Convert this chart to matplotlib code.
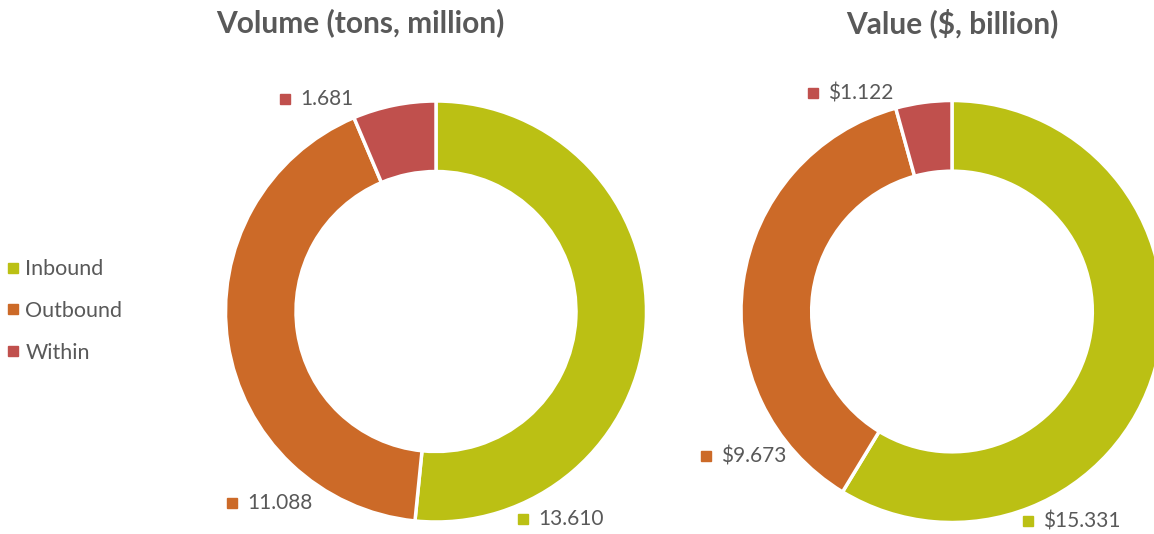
import matplotlib
matplotlib.use("Agg")
import matplotlib.pyplot as plt
from matplotlib.lines import Line2D

plt.rcParams['font.family'] = ['Lato', 'DejaVu Sans']

categories = ['Inbound', 'Outbound', 'Within']
volume = [13.610, 11.088, 1.681]
value = [15.331, 9.673, 1.122]
volume_labels = ['13.610', '11.088', '1.681']
value_labels = ['$15.331', '$9.673', '$1.122']

colors = ['#BBC014', '#CC6A28', '#C0504D']
GRAY = '#595959'

W, H = 1154, 534
fig = plt.figure(figsize=(W / 100, H / 100), dpi=100)


def donut_axes(cx, cy, r):
    # cx, cy, r in pixels (y from top)
    return fig.add_axes([(cx - r) / W, (H - cy - r) / H, 2 * r / W, 2 * r / H])


def draw_donut(ax, vals, labels, label_pos):
    ax.pie(vals, colors=colors, startangle=90, counterclock=False, radius=1,
           wedgeprops=dict(width=0.335, edgecolor='white', linewidth=2.5))
    ax.set_xlim(-1, 1)
    ax.set_ylim(-1, 1)
    ax.set_aspect('equal')
    ax.axis('off')
    for (x, y), lab, c in zip(label_pos, labels, colors):
        ax.plot([x], [y], marker='s', markersize=6.5, color=c, clip_on=False)
        ax.annotate(lab, (x, y), xytext=(11, 0), textcoords='offset points',
                    va='center', ha='left', fontsize=15, color=GRAY,
                    annotation_clip=False)


ax1 = donut_axes(436, 311.5, 210.5)
draw_donut(ax1, volume, volume_labels,
           [(0.413, -0.986), (-0.969, -0.91), (-0.717, 1.01)])

ax2 = donut_axes(952, 311.5, 211)
draw_donut(ax2, value, value_labels,
           [(0.36, -0.993), (-1.166, -0.685), (-0.659, 1.035)])

fig.text(360 / W, 1 - 23 / H, 'Volume (tons, million)', ha='center', va='center',
         fontsize=21.5, fontweight='bold', color=GRAY)
fig.text(952 / W, 1 - 23 / H, 'Value ($, billion)', ha='center', va='center',
         fontsize=21.5, fontweight='bold', color=GRAY)

handles = [Line2D([], [], marker='s', linestyle='none', markersize=6.5, color=c)
           for c in colors]
fig.legend(handles, categories, loc='center left', bbox_to_anchor=(7 / W, 1 - 311 / H),
           frameon=False, fontsize=15.5, labelcolor=GRAY, handlelength=0.6,
           handletextpad=0.25, labelspacing=1.02, borderaxespad=0, borderpad=0)

fig.savefig('out.png', dpi=100)
